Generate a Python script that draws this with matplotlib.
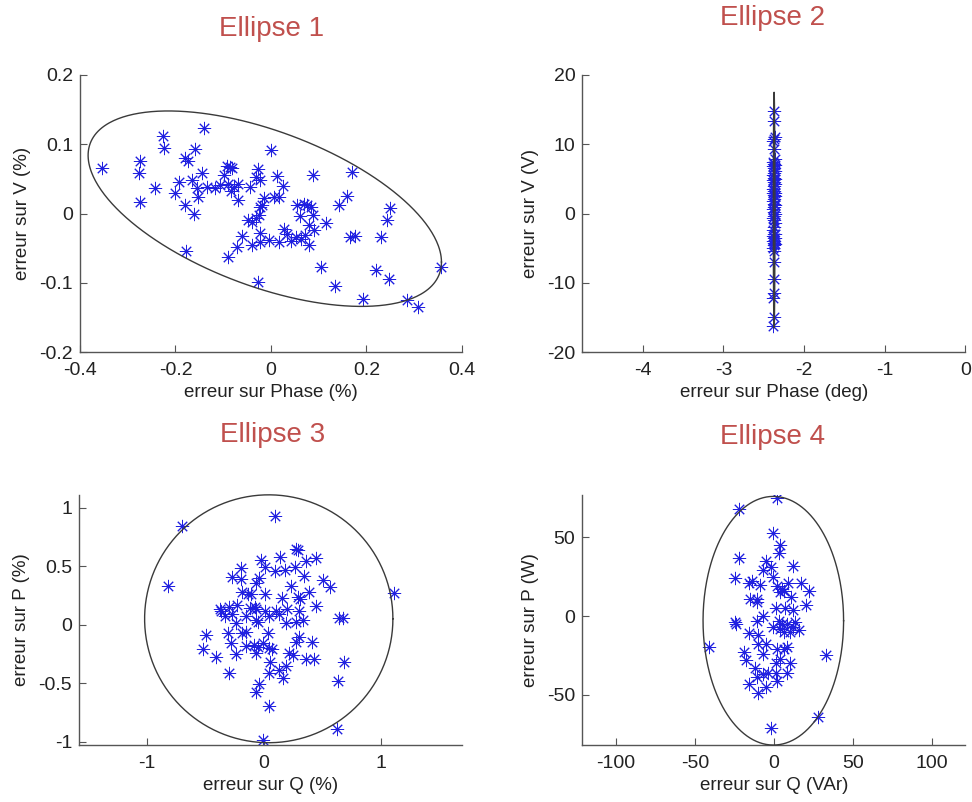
import numpy as np
import matplotlib
matplotlib.use("Agg")
import matplotlib.pyplot as plt

plt.rcParams['font.family'] = ['Liberation Sans', 'DejaVu Sans']

# ---- Ellipse 1 : erreur sur Phase (%) / erreur sur V (%)
e1_x = [-0.354, -0.227, -0.224, -0.275, -0.276, -0.275, -0.243, -0.201, -0.192, -0.180,
        -0.178, -0.180, -0.173, -0.159, -0.162, -0.166, -0.154, -0.152, -0.141, -0.145,
        -0.135, -0.117, -0.107, -0.098, -0.093, -0.086, -0.081, -0.091, -0.084, -0.077,
        -0.070, -0.069, -0.091, -0.061, -0.072, -0.044, -0.048, -0.039, -0.032, -0.040,
        -0.027, -0.032, -0.022, -0.026, -0.023, -0.018, -0.015, -0.023, -0.022, -0.027,
        -0.004, -0.001, 0.006, 0.017, 0.013, 0.026, 0.017, 0.028, 0.034, 0.041,
        0.054, 0.061, 0.052, 0.062, 0.072, 0.069, 0.076, 0.083, 0.079, 0.088,
        0.091, 0.079, 0.088, 0.116, 0.105, 0.133, 0.142, 0.160, 0.165, 0.175,
        0.170, 0.193, 0.219, 0.231, 0.242, 0.250, 0.248, 0.284, 0.308, 0.355]
e1_y = [0.066, 0.112, 0.095, 0.076, 0.059, 0.016, 0.037, 0.029, 0.045, 0.013,
        -0.054, 0.080, 0.076, 0.093, 0.000, 0.048, 0.037, 0.024, 0.124, 0.058,
        0.039, 0.037, 0.041, 0.055, 0.068, 0.067, 0.066, 0.042, 0.032, 0.039,
        0.042, 0.019, -0.063, -0.032, -0.048, 0.039, -0.009, -0.012, -0.007, -0.045,
        0.065, 0.053, 0.049, -0.002, 0.010, 0.013, 0.022, -0.028, -0.041, -0.099,
        -0.038, 0.092, 0.024, 0.024, 0.054, 0.040, -0.041, -0.022, -0.029, -0.039,
        0.013, -0.004, -0.034, -0.037, -0.031, 0.014, 0.013, 0.010, -0.017, -0.002,
        -0.024, -0.045, 0.055, -0.013, -0.077, -0.104, 0.012, 0.025, -0.034, -0.032,
        0.060, -0.123, -0.081, -0.034, -0.010, 0.008, -0.095, -0.125, -0.135, -0.077]
e1_center = (-0.013, 0.007)
e1_cov = [[0.1369, -0.0285], [-0.0285, 0.0199]]

# ---- Ellipse 2 : erreur sur Phase (deg) / erreur sur V (V)
e2_y = [14.8, 13.3, 11.0, 10.8, 10.5, 9.3, 7.8, 7.4, 7.2, 7.0, 6.8, 6.6, 6.2, 5.8, 5.5,
        5.2, 5.0, 4.8, 4.6, 4.3, 4.0, 3.6, 3.2, 3.0, 2.9, 2.7, 2.5, 2.1, 1.8, 1.4,
        1.2, 1.0, 0.6, 0.2, 0.0, -0.3, -0.7, -1.0, -1.4, -1.9, -2.4, -2.9, -3.0, -3.3,
        -3.5, -3.6, -3.9, -4.0, -4.2, -4.4, -4.6, -5.0, -5.4, -7.0, -9.5, -11.4, -12.2,
        -15.0, -16.2]
e2_x = [-2.37, -2.37, -2.36, -2.37, -2.38, -2.37, -2.36, -2.38, -2.37, -2.36,
        -2.38, -2.37, -2.36, -2.37, -2.38, -2.37, -2.36, -2.38, -2.37, -2.36,
        -2.37, -2.38, -2.37, -2.36, -2.38, -2.37, -2.36, -2.37, -2.38, -2.37,
        -2.36, -2.37, -2.38, -2.37, -2.36, -2.37, -2.38, -2.37, -2.36, -2.37,
        -2.38, -2.37, -2.36, -2.38, -2.37, -2.36, -2.37, -2.38, -2.37, -2.36,
        -2.37, -2.38, -2.37, -2.37, -2.37, -2.37, -2.38, -2.37, -2.38]
e2_center = (-2.37, 0.5)
e2_cov = [[0.0001, 0.0], [0.0, 289.0]]

# ---- Ellipse 3 : erreur sur Q (%) / erreur sur P (%)
e3_x = [-0.70, -0.82, 0.09, 1.11, 0.27, 0.29, 0.14, 0.44, 0.36, -0.03,
        0.01, 0.09, 0.18, 0.26, -0.20, -0.27, -0.20, -0.04, -0.07, 0.34,
        0.50, 0.56, 0.23, -0.19, -0.14, -0.11, 0.01, 0.15, 0.29, 0.31,
        0.38, 0.44, -0.38, -0.37, -0.30, -0.23, -0.12, -0.08, -0.07, 0.01,
        0.10, 0.20, 0.30, -0.33, -0.27, -0.15, -0.07, -0.05, 0.04, 0.13,
        0.19, 0.27, 0.33, 0.64, 0.67, -0.24, -0.31, -0.19, -0.15, 0.03,
        -0.50, -0.28, 0.30, 0.41, 0.27, -0.52, -0.41, -0.24, -0.15, -0.09,
        -0.05, -0.01, 0.04, 0.07, -0.07, 0.21, 0.25, 0.36, 0.43, 0.68,
        0.05, 0.04, 0.13, 0.19, 0.16, -0.30, -0.04, -0.07, 0.63, 0.04,
        0.62, -0.01]
e3_y = [0.84, 0.33, 0.93, 0.27, 0.65, 0.64, 0.58, 0.57, 0.54, 0.55,
        0.49, 0.46, 0.47, 0.49, 0.48, 0.41, 0.39, 0.40, 0.36, 0.42,
        0.38, 0.32, 0.33, 0.28, 0.26, 0.26, 0.26, 0.23, 0.24, 0.22,
        0.28, 0.16, 0.13, 0.12, 0.15, 0.17, 0.14, 0.15, 0.13, 0.12,
        0.12, 0.13, 0.12, 0.07, 0.09, 0.07, 0.04, 0.02, 0.07, 0.09,
        0.01, 0.02, 0.04, 0.06, 0.06, 0.01, -0.07, -0.07, -0.06, -0.07,
        -0.09, -0.16, -0.11, -0.15, -0.15, -0.21, -0.28, -0.25, -0.18, -0.17,
        -0.19, -0.16, -0.20, -0.21, -0.24, -0.24, -0.26, -0.29, -0.29, -0.32,
        -0.32, -0.41, -0.39, -0.35, -0.46, -0.41, -0.51, -0.58, -0.48, -0.70,
        -0.89, -0.99]
e3_center = (0.04, 0.05)
e3_cov = [[1.1236, 0.0], [0.0, 1.1236]]

# ---- Ellipse 4 : erreur sur Q (VAr) / erreur sur P (W)
e4_x = [1.7, -22, -1, 4, 3, -22, -5, 12, -2, -7, -1, -25, -14, -16, -9, 9, 17, 2, 5, 4,
        6, 22, -15, -11, 11, -11, 20, 7, 1, 12, -7, -11, -24, -25, 3, 5, 8, 13, -1, 4,
        6, 10, 16, 12, -16, -10, -5, -10, 8, 6, 2, -41, -19, -7, 33, -18, 4, 1, 10, 8,
        -12, -7, -4, 1, -11, -16, -5, 2, -10, 28, -2]
e4_y = [75, 68, 53, 45, 40, 37, 35, 32, 31, 29, 25, 24, 22, 21, 20, 21, 21, 19, 17, 15,
        16, 16, 11, 11, 12, 9, 7, 5, 5, 4, 0, -3, -5, -4, -3, -5, -5, -4, -7, -8,
        -10, -10, -9, -7, -11, -12, -18, -18, -20, -21, -21, -20, -23, -24, -25, -28, -27, -30, -30, -36,
        -33, -37, -36, -36, -39, -43, -45, -41, -49, -64, -71]
e4_center = (-0.5, -3.0)
e4_cov = [[1980.0, 0.0], [0.0, 6241.0]]


def ellipse_xy(center, cov):
    t = np.linspace(0, 2 * np.pi, 400)
    L = np.linalg.cholesky(np.array(cov))
    pts = L @ np.vstack([np.cos(t), np.sin(t)])
    return center[0] + pts[0], center[1] + pts[1]


fig = plt.figure(figsize=(9.72, 8.02), dpi=100)

panels = [
    dict(rect=[0.0823, 0.561, 0.393, 0.3455], x=e1_x, y=e1_y, c=e1_center, cov=e1_cov,
         xlim=(-0.4, 0.4), ylim=(-0.2, 0.2), xt=[-0.4, -0.2, 0, 0.2, 0.4],
         yt=[-0.2, -0.1, 0, 0.1, 0.2], xl='erreur sur Phase (%)', yl='erreur sur V (%)'),
    dict(rect=[0.599, 0.561, 0.394, 0.3455], x=e2_x, y=e2_y, c=e2_center, cov=e2_cov,
         xlim=(-4.75, 0), ylim=(-20, 20), xt=[-4, -3, -2, -1, 0],
         yt=[-20, -10, 0, 10, 20], xl='erreur sur Phase (deg)', yl='erreur sur V (V)'),
    dict(rect=[0.0813, 0.071, 0.394, 0.312], x=e3_x, y=e3_y, c=e3_center, cov=e3_cov,
         xlim=(-1.58, 1.69), ylim=(-1.03, 1.11), xt=[-1, 0, 1],
         yt=[-1, -0.5, 0, 0.5, 1], xl='erreur sur Q (%)', yl='erreur sur P (%)'),
    dict(rect=[0.599, 0.071, 0.394, 0.312], x=e4_x, y=e4_y, c=e4_center, cov=e4_cov,
         xlim=(-121.5, 121), ylim=(-82, 77), xt=[-100, -50, 0, 50, 100],
         yt=[-50, 0, 50], xl='erreur sur Q (VAr)', yl='erreur sur P (W)'),
]

for p in panels:
    ax = fig.add_axes(p['rect'])
    ax.plot(p['x'], p['y'], linestyle='none', marker=(8, 2, 0), markersize=9.5,
            markeredgewidth=0.7, color='#2020e0', zorder=2)
    ex, ey = ellipse_xy(p['c'], p['cov'])
    ax.plot(ex, ey, color='#3a3a3a', lw=1.0, zorder=3, clip_on=False)
    ax.set_xlim(*p['xlim'])
    ax.set_ylim(*p['ylim'])
    ax.set_xticks(p['xt'])
    ax.set_yticks(p['yt'])
    ax.set_xticklabels([f'{v:g}' for v in p['xt']])
    ax.set_yticklabels([f'{v:g}' for v in p['yt']])
    for s in ['top', 'right']:
        ax.spines[s].set_visible(False)
    for s in ['left', 'bottom']:
        ax.spines[s].set_color('#555555')
        ax.spines[s].set_linewidth(1.0)
    ax.tick_params(direction='in', length=5, color='#555555', labelsize=14,
                   labelcolor='#222222')
    ax.tick_params(axis='x', pad=7)
    ax.tick_params(axis='y', pad=5)
    ax.set_xlabel(p['xl'], fontsize=13.5, color='#222222', labelpad=4)
    ax.set_ylabel(p['yl'], fontsize=13.5, color='#222222', labelpad=6)

title_color = '#c0504d'
fig.text(0.279, 0.964, 'Ellipse 1', fontsize=20, color=title_color, ha='center', va='center')
fig.text(0.795, 0.977, 'Ellipse 2', fontsize=20, color=title_color, ha='center', va='center')
fig.text(0.280, 0.457, 'Ellipse 3', fontsize=20, color=title_color, ha='center', va='center')
fig.text(0.795, 0.455, 'Ellipse 4', fontsize=20, color=title_color, ha='center', va='center')

fig.savefig('out.png', dpi=100, facecolor='white')
